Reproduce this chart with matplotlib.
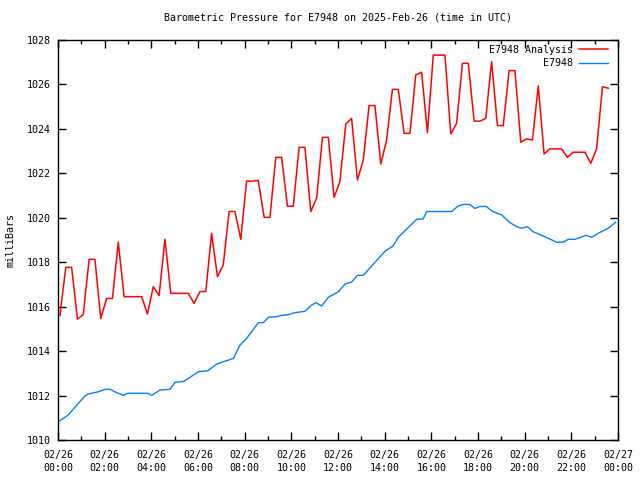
import matplotlib
matplotlib.use("Agg")
import matplotlib.pyplot as plt
import matplotlib.dates as mdates
import pandas as pd

# ---- data ----
title = "Barometric Pressure for E7948 on 2025-Feb-26 (time in UTC)"
ylabel = "milliBars"
series_names = ["E7948 Analysis", "E7948"]

analysis_start = "2025-02-26 00:05"
analysis_step = "15min"
analysis_values = [
    1015.60, 1017.77, 1017.77, 1015.44, 1015.65, 1018.13, 1018.13, 1015.47,
    1016.37, 1016.37, 1018.90, 1016.45, 1016.45, 1016.45, 1016.45, 1015.67,
    1016.90, 1016.50, 1019.03, 1016.60, 1016.60, 1016.60, 1016.60, 1016.15,
    1016.68, 1016.68, 1019.30, 1017.35, 1017.88, 1020.28, 1020.28, 1019.03,
    1021.65, 1021.65, 1021.68, 1020.02, 1020.02, 1022.72, 1022.72, 1020.52,
    1020.52, 1023.17, 1023.17, 1020.28, 1020.88, 1023.62, 1023.62, 1020.92,
    1021.63, 1024.22, 1024.47, 1021.70, 1022.60, 1025.05, 1025.05, 1022.42,
    1023.50, 1025.78, 1025.78, 1023.80, 1023.80, 1026.43, 1026.55, 1023.83,
    1027.32, 1027.32, 1027.32, 1023.77, 1024.25, 1026.95, 1026.95, 1024.35,
    1024.35, 1024.47, 1027.03, 1024.15, 1024.15, 1026.62, 1026.62, 1023.40,
    1023.55, 1023.50, 1025.93, 1022.87, 1023.10, 1023.10, 1023.10, 1022.72,
    1022.95, 1022.95, 1022.95, 1022.45, 1023.10, 1025.90, 1025.83,
]

station_times = [
    "00:01", "00:26", "01:09", "01:18", "01:44", "02:01", "02:14", "02:31",
    "02:48", "02:59", "03:52", "04:01", "04:22", "04:48", "05:01", "05:22",
    "05:35", "06:01", "06:26", "06:48", "07:31", "07:48", "08:05", "08:35",
    "08:48", "09:01", "09:22", "09:35", "09:52", "10:09", "10:35", "10:52",
    "11:03", "11:18", "11:35", "12:01", "12:18", "12:35", "12:50", "13:05",
    "13:44", "14:01", "14:22", "14:35", "14:57", "15:22", "15:39", "15:48",
    "16:52", "17:09", "17:22", "17:39", "17:52", "18:05", "18:21", "18:38",
    "19:01", "19:22", "19:40", "19:52", "20:07", "20:22", "20:48", "21:10",
    "21:22", "21:39", "21:52", "22:09", "22:38", "22:52", "23:09", "23:35",
    "23:54",
]
station_values = [
    1010.82, 1011.12, 1011.98, 1012.07, 1012.17, 1012.28, 1012.28, 1012.13,
    1012.01, 1012.10, 1012.10, 1012.01, 1012.25, 1012.28, 1012.60, 1012.63,
    1012.77, 1013.07, 1013.12, 1013.42, 1013.67, 1014.27, 1014.57, 1015.28,
    1015.28, 1015.52, 1015.55, 1015.61, 1015.64, 1015.73, 1015.79, 1016.07,
    1016.18, 1016.03, 1016.42, 1016.67, 1017.02, 1017.11, 1017.41, 1017.41,
    1018.17, 1018.50, 1018.74, 1019.12, 1019.50, 1019.93, 1019.95, 1020.28,
    1020.28, 1020.53, 1020.60, 1020.60, 1020.42, 1020.51, 1020.51, 1020.28,
    1020.13, 1019.78, 1019.60, 1019.53, 1019.60, 1019.37, 1019.18, 1019.00,
    1018.90, 1018.90, 1019.03, 1019.03, 1019.21, 1019.12, 1019.30, 1019.53,
    1019.80,
]

y_min, y_max, y_step = 1010, 1028, 2
x_start, x_end = "2025-02-26 00:00", "2025-02-27 00:00"

# ---- build ----
analysis_t = pd.date_range(analysis_start, periods=len(analysis_values), freq=analysis_step)
station_t = pd.to_datetime(["2025-02-26 " + t for t in station_times])

FONT = "DejaVu Sans Mono"
FS = 7.2
plt.rcParams["font.family"] = FONT
plt.rcParams["font.size"] = FS

fig = plt.figure(figsize=(6.4, 4.8), dpi=100)
ax = fig.add_axes([58 / 640, 40 / 480, 560 / 640, 400 / 480])

ax.plot(analysis_t, analysis_values, color="#ff0000", lw=1.1, label=series_names[0])
ax.plot(station_t, station_values, color="#0080ff", lw=1.0, label=series_names[1])

ax.set_xlim(pd.Timestamp(x_start), pd.Timestamp(x_end))
ax.set_ylim(y_min, y_max)
ax.set_yticks(list(range(y_min, y_max + 1, y_step)))

ax.xaxis.set_major_locator(mdates.HourLocator(byhour=range(0, 24, 2)))
ax.xaxis.set_minor_locator(mdates.HourLocator(byhour=range(1, 24, 2)))
ax.xaxis.set_major_formatter(mdates.DateFormatter("%m/%d\n%H:%M"))

ax.tick_params(which="both", direction="in", top=True, right=True, colors="black",
               labelsize=FS, width=1.0)
ax.tick_params(which="major", length=6, pad=5)
ax.tick_params(which="minor", length=3)
ax.tick_params(axis="x", which="major", pad=7)
for lbl in ax.get_xticklabels():
    lbl.set_linespacing(1.45)
for s in ax.spines.values():
    s.set_linewidth(1.0)
    s.set_color("black")

ax.set_title(title, fontsize=FS, pad=14)
ax.set_ylabel(ylabel, fontsize=FS, labelpad=8)

leg = ax.legend(loc="upper right", bbox_to_anchor=(1 - 5 / 560, 1.0),
                frameon=False, markerfirst=False,
                fontsize=FS, handlelength=2.9, handletextpad=0.6,
                labelspacing=0.35, borderaxespad=0.1)
leg._legend_box.align = "right"

fig.savefig("out.png", dpi=100)
